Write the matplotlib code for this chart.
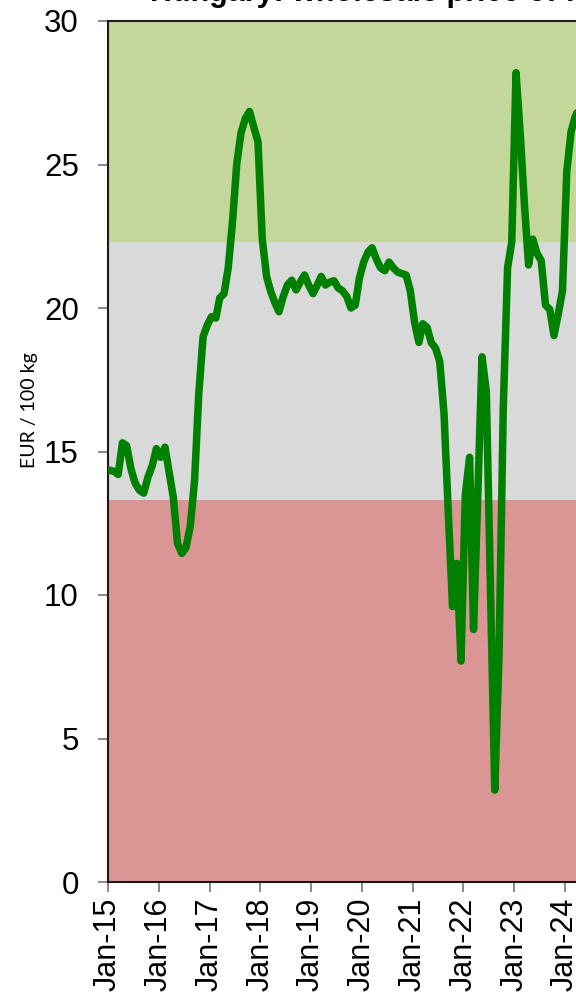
import matplotlib
matplotlib.use("Agg")
import matplotlib.pyplot as plt
import matplotlib.dates as mdates
import pandas as pd

# ---- data (monthly, EUR / 100 kg), starting Jan-2015 ----
start_month = "2015-01-01"
price = [
    14.35, 14.3, 14.2, 15.3, 15.2, 14.4, 13.9, 13.65, 13.55, 14.1, 14.5, 15.1,   # 2015
    14.8, 15.15, 14.3, 13.4, 11.8, 11.45, 11.65, 12.4, 14.0, 17.0, 19.0, 19.4,   # 2016
    19.7, 19.65, 20.35, 20.5, 21.4, 23.0, 25.0, 26.1, 26.6, 26.85, 26.3, 25.8,   # 2017
    22.4, 21.1, 20.6, 20.2, 19.87, 20.4, 20.8, 20.97, 20.63, 20.9, 21.15, 20.8,  # 2018
    20.5, 20.8, 21.1, 20.8, 20.9, 20.95, 20.7, 20.6, 20.4, 20.0, 20.1, 21.05,    # 2019
    21.6, 21.95, 22.1, 21.7, 21.4, 21.3, 21.6, 21.4, 21.25, 21.2, 21.15, 20.6,   # 2020
    19.5, 18.8, 19.45, 19.32, 18.79, 18.6, 18.13, 16.3, 12.8, 9.6, 11.1, 7.7,    # 2021
    13.5, 14.8, 8.8, 13.5, 18.3, 17.1, 10.2, 3.2, 8.0, 16.5, 21.4, 22.3,         # 2022
    28.2, 26.0, 23.7, 21.5, 22.4, 21.9, 21.65, 20.1, 19.95, 19.04, 19.8, 20.6,   # 2023
    24.75, 26.15, 26.65, 27.0,                                                  # 2024
]
band_high = 22.3   # upper band boundary
band_low = 13.3    # lower band boundary
y_ticks = [0, 5, 10, 15, 20, 25, 30]
title_text = "Hungary: wholesale price of feed maize"
y_label = "EUR / 100 kg"

dates = pd.date_range(start_month, periods=len(price), freq="MS") + pd.Timedelta(days=14)

W, H = 576, 993
fig = plt.figure(figsize=(W / 100, H / 100), dpi=100)

left_px, right_px = 108, 108 + 50.77 * 10
bottom_px, top_px = 882, 21
ax = fig.add_axes([left_px / W, (H - bottom_px) / H,
                   (right_px - left_px) / W, (bottom_px - top_px) / H])

ax.axhspan(band_high, 30, color="#c4d79b", lw=0, zorder=0)
ax.axhspan(band_low, band_high, color="#d9d9d9", lw=0, zorder=0)
ax.axhspan(0, band_low, color="#da9694", lw=0, zorder=0)

ax.plot(dates, price, color="#008000", lw=5.4, solid_joinstyle="round",
        solid_capstyle="round", zorder=3)

ax.set_xlim(pd.Timestamp("2015-01-01"), pd.Timestamp("2025-01-01"))
ax.set_ylim(0, 30)
ax.set_yticks(y_ticks)
ax.xaxis.set_major_locator(mdates.YearLocator())
ax.xaxis.set_major_formatter(mdates.DateFormatter("%b-%y"))

tick_font = "Liberation Sans"
for lab in ax.get_yticklabels():
    lab.set_fontfamily(tick_font)
    lab.set_fontsize(22.5)
for lab in ax.get_xticklabels():
    lab.set_fontfamily(tick_font)
    lab.set_fontsize(22)
    lab.set_rotation(90)

ax.tick_params(axis="y", direction="out", length=7, width=1.3, color="#808080", pad=14)
ax.tick_params(axis="x", direction="out", length=7, width=1.3, color="#808080", pad=4)

for side in ["left", "bottom", "top"]:
    ax.spines[side].set_color("#1a1a1a")
    ax.spines[side].set_linewidth(1.5)
ax.spines["right"].set_visible(False)

fig.text(29 / W, (H - 410) / H, y_label, rotation=90, ha="center", va="center",
         fontsize=14, family="Lato")

fig.text(150 / W, 1 - 1.5 / H, title_text, ha="left", va="baseline",
         fontsize=22, fontweight="bold", family="Liberation Sans")

fig.savefig("out.png", dpi=100)
